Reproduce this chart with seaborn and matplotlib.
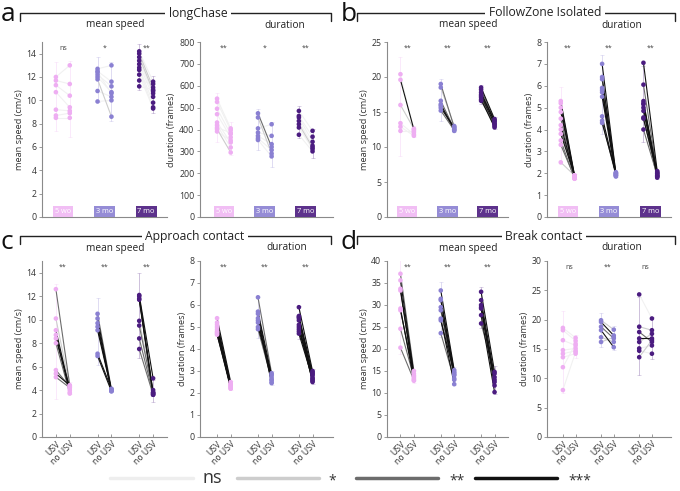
import numpy as np
import pandas as pd
import matplotlib
matplotlib.use("Agg")
import matplotlib.pyplot as plt
from matplotlib.lines import Line2D
import seaborn as sns

sns.set_theme(style="white")
plt.rcParams['font.family'] = ['Open Sans', 'DejaVu Sans']

# ---------------- data ----------------
groups = ["5 wo", "3 mo", "7 mo"]
group_colors = ["#eeaef2", "#8a80d2", "#4b1c80"]
cond_labels = ["USV", "no USV"]
sig_names = ["ns", "*", "**", "***"]
level_colors = ["#f1f1f1", "#cdcdcd", "#6c6c6c", "#111111"]

# a) longChase
a_speed_usv = [[12.0, 11.7, 11.3, 10.7, 9.2, 8.7, 8.5],
               [12.7, 12.5, 12.2, 12.0, 11.8, 10.8, 9.9, 12.4],
               [14.2, 14.0, 13.7, 13.4, 13.1, 12.8, 12.6, 12.2, 11.7, 11.2]]
a_speed_no = [[13.0, 11.4, 10.4, 9.4, 9.1, 8.9, 8.5],
              [13.0, 11.6, 11.2, 10.7, 8.6, 10.3, 10.0, 10.6],
              [11.6, 11.1, 10.8, 10.6, 10.3, 9.8, 9.4, 9.3, 11.4, 10.9]]
a_speed_lvl = [[0, 0, 0, 0, 0, 0, 0],
               [0, 0, 0, 0, 1, 0, 0, 0],
               [0, 1, 1, 0, 0, 0, 0, 0, 0, 0]]
a_speed_sig = ["ns", "*", "**"]

a_dur_usv = [[541, 526, 495, 470, 432, 420, 409, 402, 391],
             [474, 455, 405, 386, 371, 352, 360],
             [485, 462, 455, 439, 424, 409, 376]]
a_dur_no = [[405, 397, 379, 364, 341, 318, 385, 295, 350],
            [320, 290, 424, 371, 333, 277, 306],
            [394, 367, 344, 326, 318, 311, 300]]
a_dur_lvl = [[0, 0, 0, 0, 0, 0, 0, 1, 0],
             [2, 1, 0, 0, 0, 0, 0],
             [0, 0, 0, 0, 1, 0, 0]]
a_dur_sig = ["**", "*", "**"]

# b) FollowZone Isolated
b_speed_usv = [[20.4, 19.6, 16.0, 13.4, 12.9, 12.3],
               [19.0, 18.5, 16.6, 16.1, 15.9, 15.6, 15.2],
               [18.5, 18.2, 17.8, 17.3, 17.1, 16.8, 16.6, 17.5]]
b_speed_no = [[12.1, 12.5, 12.6, 11.8, 11.6, 12.3],
              [12.8, 13.0, 12.6, 12.5, 12.3, 12.8, 12.4],
              [14.0, 13.7, 13.5, 13.3, 13.0, 12.8, 13.2, 13.8]]
b_speed_lvl = [[0, 3, 1, 0, 0, 0],
               [2, 1, 2, 3, 2, 3, 2],
               [3, 2, 3, 3, 2, 3, 2, 3]]
b_speed_sig = ["**", "**", "**"]

b_dur_usv = [[5.3, 5.2, 5.0, 4.8, 4.5, 4.2, 4.0, 3.8, 3.5, 3.3, 2.5],
             [7.0, 6.4, 6.3, 5.9, 5.8, 5.7, 5.5, 4.6, 4.4, 4.3],
             [7.05, 6.05, 5.3, 5.2, 5.15, 4.85, 4.55, 4.5, 4.0, 5.0]]
b_dur_no = [[1.9, 1.85, 1.8, 1.9, 1.75, 1.85, 1.8, 1.9, 1.75, 1.8, 1.9],
            [2.0, 1.9, 2.05, 1.95, 1.9, 2.0, 1.85, 1.95, 1.9, 2.0],
            [2.1, 2.0, 1.9, 1.85, 2.05, 1.95, 1.8, 2.0, 1.9, 1.85]]
b_dur_lvl = [[3, 2, 3, 3, 2, 3, 2, 3, 2, 2, 1],
             [3, 3, 2, 3, 3, 2, 3, 3, 2, 3],
             [3, 2, 3, 2, 3, 3, 2, 3, 2, 3]]
b_dur_sig = ["**", "**", "**"]

# c) Approach contact
c_speed_usv = [[12.6, 10.1, 9.1, 8.7, 8.4, 8.0, 5.7, 5.4, 5.1],
               [10.5, 10.1, 9.7, 9.4, 9.1, 7.1, 6.9],
               [12.1, 12.0, 11.8, 11.7, 9.5, 8.4, 7.5, 9.9]]
c_speed_no = [[4.4, 4.3, 4.0, 3.8, 4.2, 3.7, 4.3, 4.4, 4.2],
              [4.1, 4.0, 3.9, 4.0, 3.95, 4.1, 3.9],
              [5.0, 3.8, 3.7, 3.6, 3.8, 3.7, 3.6, 4.0]]
c_speed_lvl = [[2, 1, 3, 3, 3, 2, 2, 3, 2],
               [2, 3, 3, 3, 3, 3, 3],
               [3, 3, 3, 3, 2, 2, 2, 1]]
c_speed_sig = ["**", "**", "**"]

c_dur_usv = [[5.4, 5.2, 5.1, 5.0, 4.9, 4.8, 4.75, 4.7, 4.65],
             [6.35, 5.7, 5.6, 5.4, 5.2, 5.0, 4.9, 5.3],
             [5.9, 5.5, 5.45, 5.4, 5.3, 5.1, 5.0, 4.9, 4.8, 4.7]]
c_dur_no = [[2.5, 2.4, 2.3, 2.2, 2.25, 2.35, 2.4, 2.2, 2.3],
            [2.9, 2.8, 2.6, 2.5, 2.7, 2.85, 2.6, 2.45],
            [3.0, 2.9, 2.8, 2.7, 2.6, 2.5, 2.55, 2.85, 2.95, 2.65]]
c_dur_lvl = [[3, 3, 3, 3, 3, 2, 3, 3, 3],
             [2, 3, 3, 3, 3, 3, 2, 3],
             [3, 3, 2, 3, 3, 3, 3, 2, 3, 3]]
c_dur_sig = ["**", "**", "**"]

# d) Break contact
d_speed_usv = [[37.1, 35.6, 33.7, 33.3, 29.2, 28.8, 24.6, 20.3],
               [33.3, 31.4, 31.1, 28.8, 26.9, 26.5, 23.6, 29.5],
               [33.0, 31.1, 29.5, 29.2, 27.7, 25.8, 30.0]]
d_speed_no = [[15.0, 14.4, 13.8, 13.2, 12.8, 14.0, 13.5, 12.9],
              [15.2, 14.8, 14.0, 13.3, 12.0, 14.5, 13.0, 14.2],
              [14.8, 13.6, 12.5, 11.7, 10.2, 14.4, 13.0]]
d_speed_lvl = [[2, 3, 3, 3, 3, 3, 2, 2],
               [3, 3, 3, 2, 3, 3, 2, 3],
               [3, 3, 3, 3, 3, 2, 3]]
d_speed_sig = ["**", "**", "**"]

d_dur_usv = [[18.6, 18.2, 16.5, 14.8, 14.2, 13.6, 11.9, 8.0],
             [19.9, 19.6, 18.8, 18.2, 17.0, 16.2],
             [24.3, 18.8, 17.9, 16.8, 16.2, 15.1, 14.7, 13.6]]
d_dur_no = [[16.9, 16.4, 15.6, 15.1, 14.7, 14.2, 15.9, 14.5],
            [18.3, 17.3, 16.8, 15.3, 16.2, 17.0],
            [20.2, 18.2, 16.2, 16.8, 17.6, 15.6, 14.2, 16.5]]
d_dur_lvl = [[0, 0, 0, 0, 0, 0, 0, 0],
             [1, 3, 2, 3, 1, 1],
             [0, 1, 2, 3, 1, 0, 0, 1]]
d_dur_sig = ["ns", "**", "ns"]

# ---------------- drawing ----------------
W, H = 680, 491
fig = plt.figure(figsize=(W / 100, H / 100), dpi=100)

AX_GRAY = "#8a8a8a"
TXT = "#333333"


def px_axes(left, top, right, bottom):
    return fig.add_axes([left / W, 1 - bottom / H, (right - left) / W, (bottom - top) / H])


def panel(ax, usv, no, lvl, sig, ylim, yticks, ylabel, boxes, xlabels, xlim):
    rows = []
    pid = 0
    for gi in range(3):
        for j in range(len(usv[gi])):
            for ci, vals in enumerate((usv[gi], no[gi])):
                rows.append(dict(pos=1 + 3 * gi + ci, val=vals[j], group=groups[gi],
                                 pid=pid, level=lvl[gi][j]))
            pid += 1
    df = pd.DataFrame(rows)
    # connecting lines, lighter first
    for lv in range(4):
        sub = df[df.level == lv]
        if len(sub):
            sns.lineplot(data=sub, x="pos", y="val", units="pid", estimator=None,
                         color=level_colors[lv], linewidth=0.8, sort=False,
                         legend=False, ax=ax, zorder=2 + lv * 0.1)
    # error bars (mean +- 2 SD)
    for gi in range(3):
        for ci, vals in enumerate((usv[gi], no[gi])):
            v = np.asarray(vals, float)
            m, s = v.mean(), v.std(ddof=1)
            ax.errorbar([1 + 3 * gi + ci], [m], yerr=[2 * s], fmt="none",
                        ecolor=group_colors[gi], alpha=0.28, elinewidth=0.7,
                        capsize=1.5, capthick=0.5, zorder=1.5)
    sns.scatterplot(data=df, x="pos", y="val", hue="group", palette=group_colors,
                    hue_order=groups, s=11, edgecolor="none", legend=False,
                    ax=ax, zorder=3)
    ax.set_ylim(*ylim)
    ax.set_xlim(*xlim)
    ax.set_yticks(yticks)
    ax.set_yticklabels([str(t) for t in yticks], fontsize=6.3, color=TXT)
    ax.set_ylabel(ylabel, fontsize=6.6, color=TXT, labelpad=2)
    ax.set_xlabel("")
    for sp in ("top", "right"):
        ax.spines[sp].set_visible(False)
    for sp in ("left", "bottom"):
        ax.spines[sp].set_color(AX_GRAY)
        ax.spines[sp].set_linewidth(0.8)
    ax.tick_params(axis="y", length=2.5, width=0.6, color=AX_GRAY, pad=1.5, left=True)
    if xlabels:
        ax.set_xticks([1, 2, 4, 5, 7, 8])
        ax.set_xticklabels(cond_labels * 3, rotation=45, ha="right",
                           rotation_mode="anchor", fontsize=6.3, color=TXT)
        ax.tick_params(axis="x", direction="in", length=2.5, width=0.6,
                       color=AX_GRAY, pad=2, bottom=True)
    else:
        ax.set_xticks([])
    for gi in range(3):
        ax.text(1.5 + 3 * gi, 0.965, sig[gi], transform=ax.get_xaxis_transform(),
                ha="center", va="center", fontsize=5, color="#444444")
        if boxes:
            ax.text(1.5 + 3 * gi, 0.032, groups[gi], transform=ax.get_xaxis_transform(),
                    ha="center", va="center", fontsize=5.3, color="white",
                    bbox=dict(boxstyle="square,pad=0.25", fc=group_colors[gi],
                              ec="none", alpha=0.9 if gi else 0.8), zorder=4)


XL_S = (0, 9)
XL_D = (-0.25, 9.5)
rows_top = (42, 217)
rows_bot = (261, 437)

ax = px_axes(42, rows_top[0], 167, rows_top[1])
panel(ax, a_speed_usv, a_speed_no, a_speed_lvl, a_speed_sig, (0, 15), list(range(0, 15, 2)),
      "mean speed (cm/s)", True, False, XL_S)
ax = px_axes(200, rows_top[0], 333, rows_top[1])
panel(ax, a_dur_usv, a_dur_no, a_dur_lvl, a_dur_sig, (0, 800), list(range(0, 801, 100)),
      "duration (frames)", True, False, XL_D)
ax = px_axes(387, rows_top[0], 508, rows_top[1])
panel(ax, b_speed_usv, b_speed_no, b_speed_lvl, b_speed_sig, (0, 25), list(range(0, 26, 5)),
      "mean speed (cm/s)", True, False, XL_S)
ax = px_axes(547, rows_top[0], 671, rows_top[1])
panel(ax, b_dur_usv, b_dur_no, b_dur_lvl, b_dur_sig, (0, 8), list(range(0, 9)),
      "duration (frames)", True, False, XL_S)

ax = px_axes(42, rows_bot[0], 167, rows_bot[1])
panel(ax, c_speed_usv, c_speed_no, c_speed_lvl, c_speed_sig, (0, 15), list(range(0, 15, 2)),
      "mean speed (cm/s)", False, True, XL_S)
ax = px_axes(200, rows_bot[0], 333, rows_bot[1])
panel(ax, c_dur_usv, c_dur_no, c_dur_lvl, c_dur_sig, (0, 8), list(range(0, 9)),
      "duration (frames)", False, True, XL_D)
ax = px_axes(387, rows_bot[0], 508, rows_bot[1])
panel(ax, d_speed_usv, d_speed_no, d_speed_lvl, d_speed_sig, (0, 40), list(range(0, 41, 5)),
      "mean speed (cm/s)", False, True, XL_S)
ax = px_axes(547, rows_bot[0], 671, rows_bot[1])
panel(ax, d_dur_usv, d_dur_no, d_dur_lvl, d_dur_sig, (0, 30), list(range(0, 31, 5)),
      "duration (frames)", False, True, XL_D)


# headers: panel letter, bracket, title, subtitles
def fx(x):
    return x / W


def fy(y):
    return 1 - y / H


def header(letter, lx, lbase, x0, x1, yb, title, tx, s1x, s2x, sy):
    fig.text(fx(lx), fy(lbase), letter, fontsize=19, color="#111111", ha="left", va="baseline")
    fig.add_artist(Line2D([fx(x0), fx(x0), fx(x1), fx(x1)],
                          [fy(yb + 8), fy(yb), fy(yb), fy(yb + 8)],
                          color="#222222", lw=1.0))
    fig.text(fx(tx), fy(yb), title, fontsize=8.7, color="#222222", ha="center", va="center",
             bbox=dict(boxstyle="square,pad=0.3", fc="white", ec="none"))
    fig.text(fx(s1x), fy(sy), "mean speed", fontsize=7.3, color="#222222", ha="center", va="center")
    fig.text(fx(s2x), fy(sy), "duration", fontsize=7.3, color="#222222", ha="center", va="center")


header("a", 1, 21, 20, 331, 13, "longChase", 198, 115, 285, 25)
header("b", 341, 21, 357, 675, 13, "FollowZone Isolated", 545, 468, 622, 25)
header("c", 1, 249, 20, 331, 236, "Approach contact", 195, 115, 287, 248)
header("d", 341, 249, 357, 675, 236, "Break contact", 544, 468, 622, 248)

# significance legend
leg_y = 478
for i, (x0, x1, tx, fs) in enumerate([(110, 193, 212, 13), (237, 319, 332, 10),
                                      (356, 438, 457, 10), (475, 557, 580, 10)]):
    fig.add_artist(Line2D([fx(x0), fx(x1)], [fy(leg_y), fy(leg_y)],
                          color=level_colors[i] if i else "#eeeeee", lw=2.5))
    fig.text(fx(tx), fy(leg_y + (0 if i == 0 else 3)), sig_names[i], fontsize=fs,
             color="#333333", ha="center", va="center")

fig.savefig("out.png", dpi=100, facecolor="white")
